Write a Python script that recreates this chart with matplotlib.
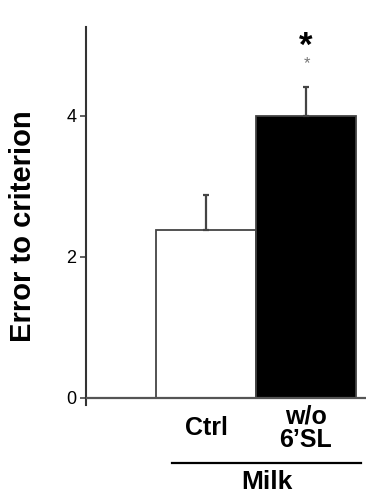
import matplotlib.pyplot as plt

plt.rcParams["font.family"] = ["Liberation Sans", "DejaVu Sans"]

groups = ["Ctrl", "w/o\n6\u2019SL"]
means = [2.38, 4.0]
err_up = [0.50, 0.41]
colors = ["white", "black"]
xpos = [1.2, 2.2]
group_label = "Milk"
yticks = [0, 2, 4]

W, H = 366, 495
fig = plt.figure(figsize=(W / 100, H / 100), dpi=100)
ax = fig.add_axes([86 / W, (H - 405) / H, (W - 86) / W, (405 - 27) / H])

ax.bar(xpos, means, width=1.0, color=colors, edgecolor="#444444", linewidth=1.3, zorder=2)
ax.errorbar(xpos, means, yerr=[[0, 0], err_up], fmt="none", ecolor="#444444",
            elinewidth=1.6, capsize=2.5, capthick=1.6, zorder=3)
ax.axhline(0, color="#555555", lw=1.6, zorder=4)

ax.set_xlim(0, 2.8)
ax.set_ylim(-0.1, 5.26)
ax.set_yticks(yticks)
ax.set_yticklabels([str(t) for t in yticks], fontsize=13)
ax.tick_params(axis="y", direction="out", length=4, width=1.2, color="#444444", pad=3)
ax.set_xticks([])
for s in ["top", "right", "bottom"]:
    ax.spines[s].set_visible(False)
ax.spines["left"].set_color("#333333")
ax.spines["left"].set_linewidth(1.5)

# significance marks (big star with a faint smaller one just below)
ax.text(xpos[1], 4.98, "*", fontsize=25, fontweight="bold", ha="center", va="center")
ax.text(xpos[1] + 0.01, 4.74, "*", fontsize=12, color="#777777", ha="center", va="center")

# group labels under the bars
for x, g in zip(xpos, groups):
    ax.text(x, -0.43, g, fontsize=18, fontweight="bold", ha="center", va="center",
            linespacing=0.95, clip_on=False)
ax.plot([0.86, 2.75], [-0.92, -0.92], color="black", lw=1.6, clip_on=False)
ax.text(1.81, -1.19, group_label, fontsize=19, fontweight="bold", ha="center",
        va="center", clip_on=False)

fig.text(23 / W, 1 - 226 / H, "Error to criterion", rotation=90, fontsize=21,
         fontweight="bold", ha="center", va="center")

fig.savefig("out.png", dpi=100)
